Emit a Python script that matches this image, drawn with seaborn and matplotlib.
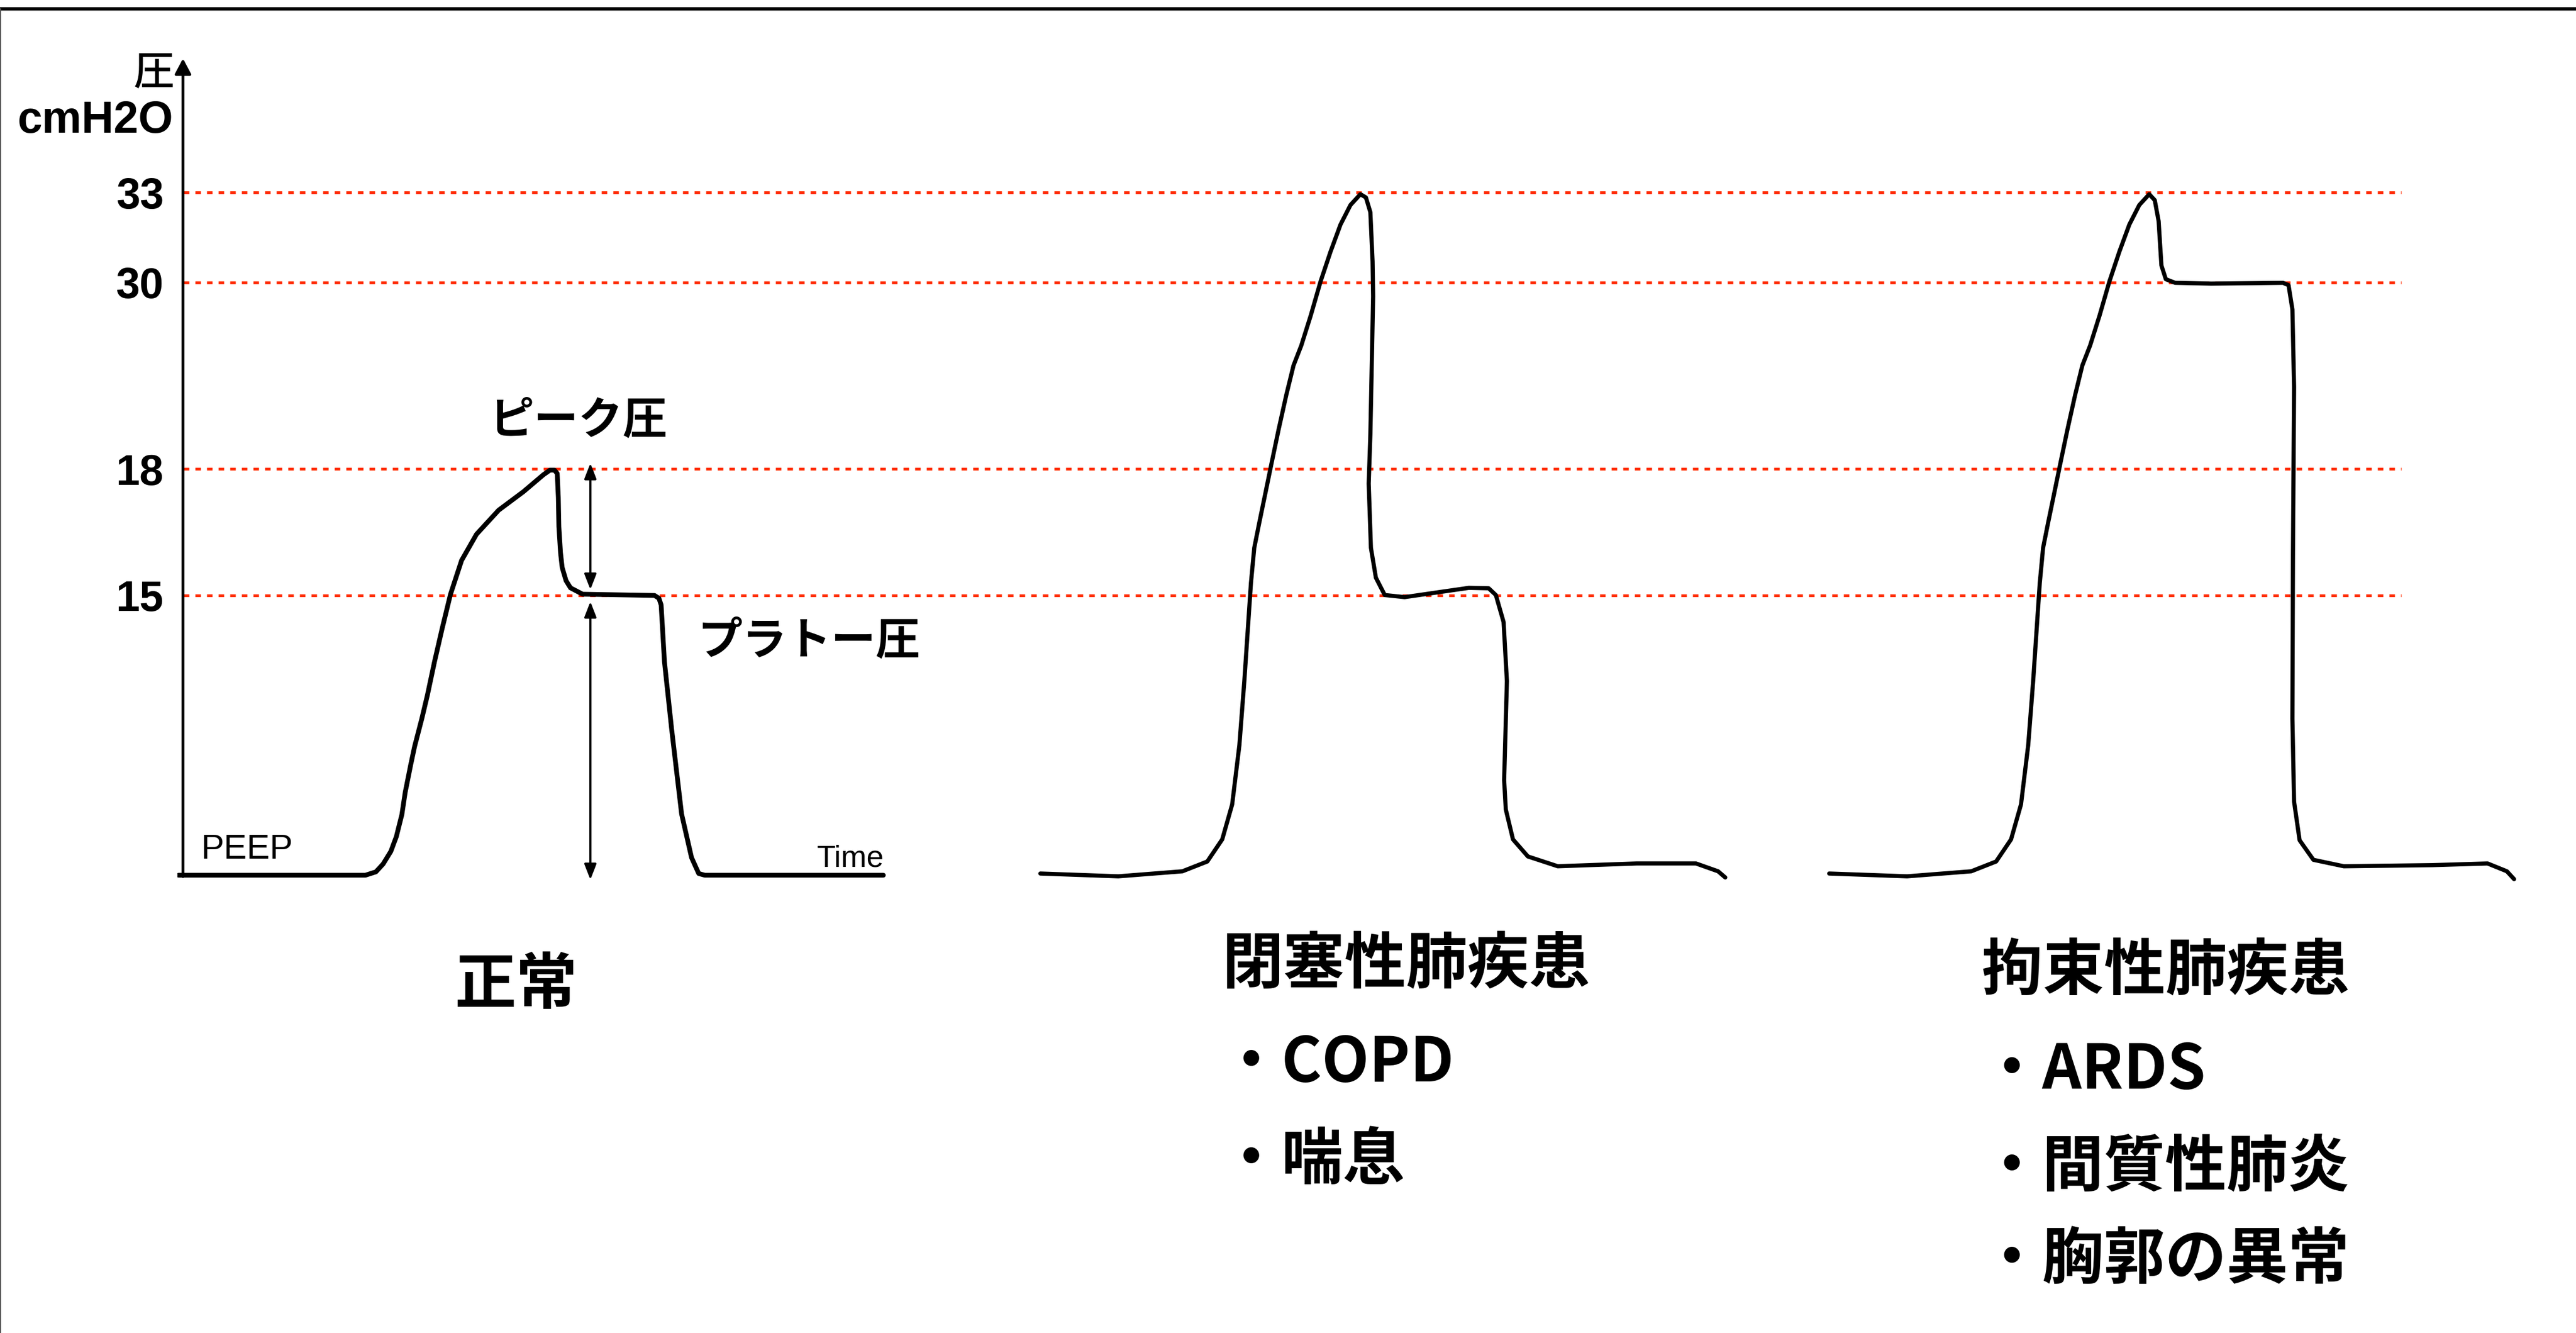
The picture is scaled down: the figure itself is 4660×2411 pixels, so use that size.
import numpy as np
import pandas as pd
import matplotlib.pyplot as plt
from matplotlib.lines import Line2D
import seaborn as sns

sns.set_theme(style="white")
plt.rcParams["font.family"] = ["Noto Sans CJK JP", "DejaVu Sans"]
plt.rcParams["text.color"] = "black"
plt.rcParams["ytick.color"] = "black"
plt.rcParams["ytick.labelcolor"] = "black"

W, H, DPI = 4660, 2411, 100

## DATA (time in arbitrary units, pressure in cmH2O)
ref_levels = [15, 18, 30, 33]
ref_labels = ["15", "18", "30", "33"]

normal_t = [0.02, 3.40, 3.59, 3.72, 3.86, 3.96, 4.06, 4.12, 4.22, 4.29, 4.42, 4.52, 4.65, 4.79,
            4.94, 5.14, 5.41, 5.81, 6.26, 6.62, 6.74, 6.82, 6.87, 6.89, 6.90, 6.93, 6.96, 7.03,
            7.11, 7.33, 8.63, 8.71, 8.75, 8.81, 8.94, 9.12, 9.30, 9.43, 9.54, 12.77]
normal_p = [5.0, 5.0, 5.12, 5.40, 5.85, 6.38, 7.17, 7.96, 8.95, 9.60, 10.59, 11.42, 12.63, 13.83,
            15.03, 15.83, 16.45, 17.02, 17.46, 17.86, 17.97, 17.97, 17.89, 17.32, 16.63, 16.01, 15.66, 15.35,
            15.18, 15.03, 15.0, 14.90, 14.66, 12.63, 10.22, 7.19, 5.63, 5.06, 5.0, 5.0]

copd_t = [15.61, 17.02, 18.18, 18.63, 18.90, 19.08, 19.21, 19.30, 19.36, 19.42, 19.48, 19.57,
          19.66, 19.79, 19.92, 20.06, 20.19, 20.33, 20.50, 20.68, 20.86, 21.04, 21.22, 21.40,
          21.50, 21.58, 21.62, 21.63, 21.58, 21.55, 21.59, 21.68, 21.84, 22.20, 22.83, 23.36,
          23.72, 23.85, 23.99, 24.05, 24.00, 24.03, 24.16, 24.43, 24.97, 26.40, 27.47, 27.87, 28.00]
copd_p = [5.06, 4.96, 5.14, 5.49, 6.28, 7.53, 9.64, 11.94, 13.70, 15.30, 16.13, 16.72,
          17.29, 18.32, 20.53, 22.77, 24.66, 25.94, 27.86, 30.04, 31.03, 31.93, 32.58, 32.94,
          32.83, 32.34, 30.70, 29.11, 20.21, 17.65, 16.13, 15.42, 15.01, 14.94, 15.08, 15.18,
          15.17, 15.01, 14.05, 11.94, 8.40, 7.35, 6.28, 5.67, 5.32, 5.42, 5.42, 5.14, 4.92]

restrictive_t = [29.88, 31.29, 32.45, 32.90, 33.17, 33.35, 33.48, 33.57, 33.63, 33.69, 33.75, 33.84,
                 33.93, 34.06, 34.19, 34.33, 34.46, 34.60, 34.77, 34.95, 35.13, 35.31, 35.49, 35.67,
                 35.77, 35.84, 35.89, 35.97, 36.14, 36.79, 37.59, 38.09, 38.19, 38.26, 38.29, 38.27,
                 38.26, 38.29, 38.39, 38.64, 39.19, 40.79, 41.79, 42.14, 42.27]
restrictive_p = [5.06, 4.96, 5.14, 5.49, 6.28, 7.53, 9.64, 11.94, 13.70, 15.30, 16.13, 16.72,
                 17.29, 18.32, 20.53, 22.77, 24.66, 25.94, 27.86, 30.04, 31.03, 31.93, 32.58, 32.94,
                 32.74, 32.04, 30.57, 30.11, 29.98, 29.93, 29.96, 29.98, 29.83, 28.26, 23.27, 16.01,
                 10.59, 7.63, 6.25, 5.55, 5.32, 5.36, 5.42, 5.14, 4.86]

titles = ["正常", "閉塞性肺疾患", "拘束性肺疾患"]
copd_items = ["・COPD", "・喘息"]
restrictive_items = ["・ARDS", "・間質性肺炎", "・胸郭の異常"]

## SCHEMATIC PRESSURE AXIS (piecewise, as drawn in the original)
P_KNOTS = np.array([0, 5, 15, 18, 30, 33, 40])
H_KNOTS = np.array([-253, 0, 506, 735, 1072, 1235, 1615])


def fwd(p):
    return np.interp(p, P_KNOTS, H_KNOTS)


def inv(h):
    return np.interp(h, H_KNOTS, P_KNOTS)


def fx(px):
    return px / W


def fy(py):
    return 1 - py / H


fig = plt.figure(figsize=(W / DPI, H / DPI), dpi=DPI)
ax = fig.add_axes([fx(321), fy(1600), 1 - fx(321), (1600 - 100) / H])
ax.set_yscale("function", functions=(fwd, inv))
ax.set_xlim(0, (W - 321) / 100)
ax.set_ylim(float(inv(-17)), float(inv(1483)))
for s in ax.spines.values():
    s.set_visible(False)
ax.set_facecolor("none")

# red reference lines
for lvl in ref_levels:
    ax.plot([0.11, 40.23], [lvl, lvl], color="#ff2d00", lw=3.6, ls=(0, (2, 2.2)), zorder=1)

# waveforms
curves = [("normal", normal_t, normal_p, 6.2), ("copd", copd_t, copd_p, 5.4),
          ("restrictive", restrictive_t, restrictive_p, 5.4)]
for name, t, p, lw in curves:
    df = pd.DataFrame({"t": t, "p": p})
    sns.lineplot(data=df, x="t", y="p", ax=ax, sort=False, estimator=None,
                 color="black", lw=lw, zorder=3)
    ax.lines[-1].set_solid_joinstyle("round")

# y axis with arrow
ax.annotate("", xy=(0.10, 37.46), xytext=(0.10, 4.95),
            arrowprops=dict(arrowstyle="-|>,head_length=0.85,head_width=0.45", lw=3.6,
                            color="black", shrinkA=0, shrinkB=0, mutation_scale=20))
# peak / plateau double arrows
for top, bottom in [(18.36, 15.14), (14.78, 4.84)]:
    ax.annotate("", xy=(7.47, top), xytext=(7.47, bottom),
                arrowprops=dict(arrowstyle="<|-|>,head_length=0.85,head_width=0.33", lw=2.8,
                                color="black", shrinkA=0, shrinkB=0, mutation_scale=20))

ax.set_yticks(ref_levels)
ax.set_yticklabels(ref_labels, fontsize=56, fontweight="bold", family=["Liberation Sans"],
                   color="black")
ax.tick_params(axis="y", length=0, pad=18)
ax.set_xticks([])
ax.set_xlabel("")
ax.set_ylabel("")

# axis captions
fig.text(fx(315), fy(133), "圧", fontsize=53, fontweight="medium", ha="right", va="center")
fig.text(fx(314), fy(219), "cmH2O", fontsize=58, fontweight="bold", ha="right", va="center",
         family=["Liberation Sans"])
fig.text(fx(885), fy(762), "ピーク圧", fontsize=58, fontweight="bold", ha="left", va="center")
fig.text(fx(1263), fy(1160), "プラトー圧", fontsize=58, fontweight="bold", ha="left", va="center")
fig.text(fx(364), fy(1553), "PEEP", fontsize=45, ha="left", va="baseline", family=["Liberation Sans"])
fig.text(fx(1478), fy(1567), "Time", fontsize=40, ha="left", va="baseline", family=["Liberation Sans"])

# group titles and lists
title_pos = [(822, 1783), (2210, 1745), (3585, 1757)]
for txt, (x, y) in zip(titles, title_pos):
    fig.text(fx(x), fy(y), txt, fontsize=80, fontweight="bold", ha="left", va="center")
for txt, y in zip(copd_items, [1924, 2100]):
    fig.text(fx(2208), fy(y), txt, fontsize=80, fontweight="bold", ha="left", va="center")
for txt, y in zip(restrictive_items, [1937, 2112, 2280]):
    fig.text(fx(3584), fy(y), txt, fontsize=80, fontweight="bold", ha="left", va="center")

# slide frame (top and left edge)
fig.add_artist(Line2D([0, 1], [fy(16), fy(16)], color="black", lw=4.3, transform=fig.transFigure))
fig.add_artist(Line2D([fx(1), fx(1)], [0, fy(16)], color="#555555", lw=1.5, transform=fig.transFigure))

fig.savefig("out.png", dpi=DPI, facecolor="white")
